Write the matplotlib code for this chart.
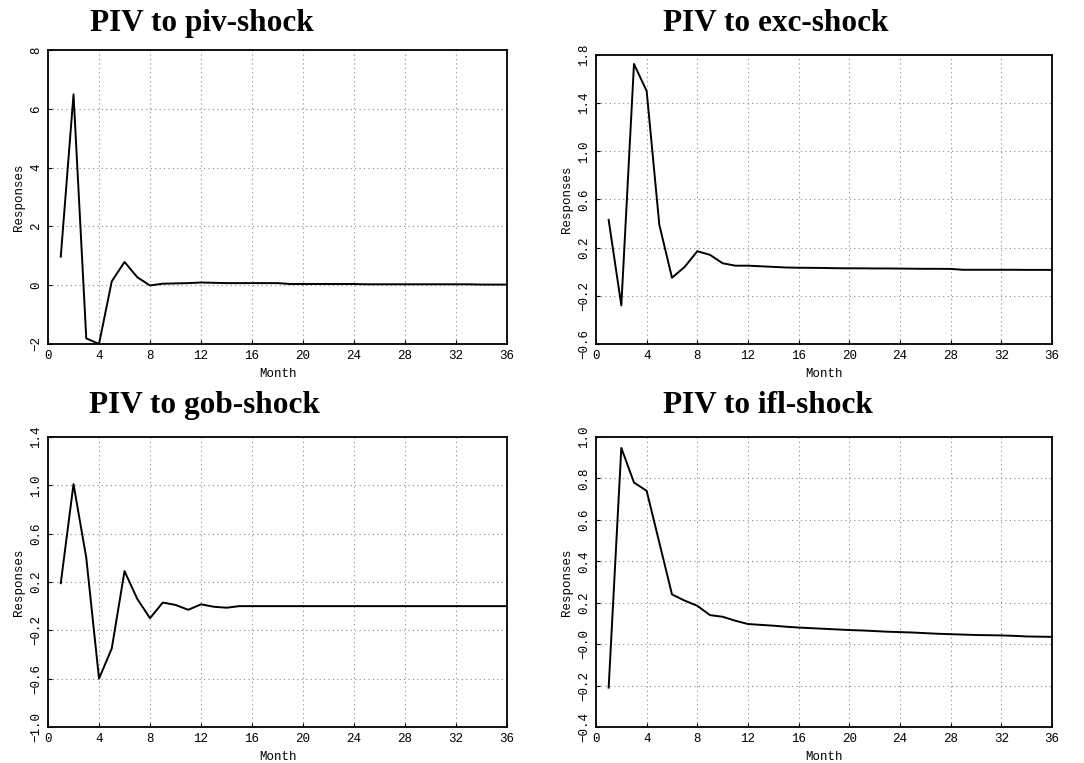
import matplotlib
matplotlib.use("Agg")
import matplotlib.pyplot as plt

# impulse responses of PIV, months 1..36
months = list(range(1, 37))

piv_shock = [0.97, 6.49, -1.81, -2.0, 0.13, 0.79, 0.27, -0.01, 0.05, 0.06,
             0.07, 0.09, 0.08, 0.07, 0.07, 0.07, 0.07, 0.07, 0.04, 0.04,
             0.04, 0.04, 0.04, 0.04, 0.03, 0.03, 0.03, 0.03, 0.03, 0.03,
             0.03, 0.03, 0.03, 0.02, 0.02, 0.02]
exc_shock = [0.43, -0.28, 1.725, 1.50, 0.39, -0.05, 0.04, 0.17, 0.14, 0.07,
             0.05, 0.05, 0.045, 0.04, 0.035, 0.033, 0.032, 0.031, 0.029, 0.028,
             0.028, 0.027, 0.027, 0.026, 0.025, 0.024, 0.024, 0.023, 0.016, 0.016,
             0.016, 0.016, 0.016, 0.015, 0.015, 0.015]
gob_shock = [0.19, 1.01, 0.40, -0.60, -0.35, 0.29, 0.06, -0.10, 0.03, 0.01,
             -0.03, 0.015, -0.005, -0.013, 0.0, 0.0, 0.0, 0.0, 0.0, 0.0,
             0.0, 0.0, 0.0, 0.0, 0.0, 0.0, 0.0, 0.0, 0.0, 0.0,
             0.0, 0.0, 0.0, 0.0, 0.0, 0.0]
ifl_shock = [-0.21, 0.947, 0.78, 0.74, 0.49, 0.24, 0.21, 0.185, 0.14, 0.132,
             0.113, 0.097, 0.093, 0.089, 0.084, 0.08, 0.077, 0.074, 0.071, 0.068,
             0.066, 0.063, 0.06, 0.058, 0.056, 0.053, 0.05, 0.048, 0.046, 0.044,
             0.043, 0.042, 0.04, 0.037, 0.036, 0.035]

titles = ["PIV to piv-shock", "PIV to exc-shock", "PIV to gob-shock", "PIV to ifl-shock"]
series = [piv_shock, exc_shock, gob_shock, ifl_shock]
x_ticks = list(range(0, 37, 4))
y_ticks = [
    [-2, 0, 2, 4, 6, 8],
    [-0.6, -0.2, 0.2, 0.6, 1.0, 1.4, 1.8],
    [-1.0, -0.6, -0.2, 0.2, 0.6, 1.0, 1.4],
    [-0.4, -0.2, 0.0, 0.2, 0.4, 0.6, 0.8, 1.0],
]
y_tick_labels = [
    ["\u22122", "0", "2", "4", "6", "8"],
    ["\u22120.6", "\u22120.2", "0.2", "0.6", "1.0", "1.4", "1.8"],
    ["\u22121.0", "\u22120.6", "\u22120.2", "0.2", "0.6", "1.0", "1.4"],
    ["\u22120.4", "\u22120.2", "\u22120.0", "0.2", "0.4", "0.6", "0.8", "1.0"],
]

# axes boxes [left, bottom, width, height] in figure fractions
boxes = [
    [0.0443, 0.5492, 0.4234, 0.3853],
    [0.5498, 0.5492, 0.4207, 0.3788],
    [0.0443, 0.0472, 0.4234, 0.3801],
    [0.5498, 0.0472, 0.4207, 0.3801],
]
title_pos = [(0.186, 0.969), (0.716, 0.969), (0.189, 0.469), (0.708, 0.469)]

fig = plt.figure(figsize=(10.84, 7.63), dpi=100)
mono = "Liberation Mono"

for i in range(4):
    ax = fig.add_axes(boxes[i])
    ax.plot(months, series[i], color="black", lw=1.4)
    ax.set_xlim(0, 36)
    ax.set_ylim(y_ticks[i][0], y_ticks[i][-1])
    ax.set_xticks(x_ticks)
    ax.set_xticklabels([str(t) for t in x_ticks], fontfamily=mono, fontsize=9)
    ax.set_yticks(y_ticks[i])
    ax.set_yticklabels(y_tick_labels[i], fontfamily=mono, fontsize=9,
                       rotation=90, va="center")
    ax.tick_params(direction="in", length=3, width=0.8, pad=4)
    ax.grid(True, linestyle=(0, (1, 3)), color="#888888", lw=0.8)
    for s in ax.spines.values():
        s.set_linewidth(1.3)
    ax.set_xlabel("Month", fontfamily=mono, fontsize=9, labelpad=5)
    ax.set_ylabel("Responses", fontfamily=mono, fontsize=9, labelpad=4)
    fig.text(title_pos[i][0], title_pos[i][1], titles[i], ha="center", va="center",
             fontfamily="Liberation Serif", fontweight="bold", fontsize=22.5)

fig.savefig("out.png", dpi=100)
